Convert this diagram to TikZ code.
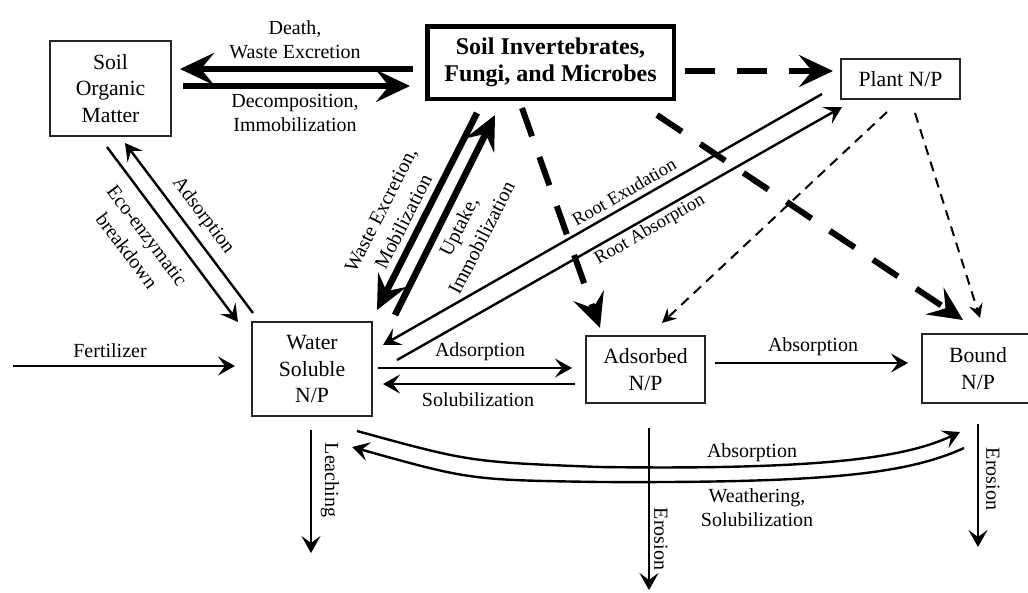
\documentclass[tikz,border=0pt]{standalone}
\usepackage{fontspec}
\setmainfont{Liberation Serif}
\usetikzlibrary{arrows.meta}
\begin{document}
\begin{tikzpicture}[x=1pt,y=-1pt,
  box/.style={draw=black!85,line width=1.2pt,align=center,inner sep=0pt,font=\fontsize{21.7}{26.7}\selectfont},
  lab/.style={align=center,inner sep=0pt,font=\fontsize{20}{24}\selectfont},
  slab/.style={align=center,inner sep=0pt,font=\fontsize{20}{25.5}\selectfont},
  rlab/.style={align=center,inner sep=0pt,font=\fontsize{18.5}{22}\selectfont},
  thinarr/.style={line width=2.4pt,-{Stealth[length=17pt,width=19pt,inset=7pt]}},
  thickarr/.style={line width=6.5pt,-{Stealth[length=34pt,width=32pt,inset=13pt]}},
  bigdash/.style={line width=6pt,dash pattern=on 30pt off 22pt,-{Stealth[length=34pt,width=32pt,inset=13pt]}},
  smalldash/.style={line width=2pt,dash pattern=on 10pt off 7pt,-{Stealth[length=14pt,width=14pt,inset=5pt]}}
]
\useasboundingbox (0,0) rectangle (1028,592);
\clip (0,0) rectangle (1028,592);
% nodes
\node[box,minimum width=121pt,minimum height=95pt] (som) at (110.5,88.5) {Soil\\Organic\\Matter};
\node[box,draw=black,line width=4.5pt,minimum width=246.5pt,minimum height=72.5pt,font=\bfseries\fontsize{24}{27.5}\selectfont] (inv) at (550.5,62.5) {Soil Invertebrates,\\Fungi, and Microbes};
\node[box,minimum width=119pt,minimum height=40pt] (plant) at (900.5,79) {Plant N/P};
\node[box,minimum width=120pt,minimum height=94pt] (ws) at (312,369) {Water\\Soluble\\N/P};
\node[box,minimum width=119pt,minimum height=67pt] (ads) at (645.5,369.5) {Adsorbed\\N/P};
\node[box,minimum width=112pt,minimum height=69pt] (bound) at (978,368.5) {Bound\\N/P};
% endpoint coordinates
\coordinate (deathS) at (413,69);   \coordinate (deathE) at (180,69);
\coordinate (decoS) at (183,86);    \coordinate (decoE) at (410,86);
\coordinate (ecoS) at (107,147);    \coordinate (ecoE) at (238,322);
\coordinate (adsoS) at (253,313);   \coordinate (adsoE) at (125,143);
\coordinate (wasteS) at (477,113);  \coordinate (wasteE) at (377,310);
\coordinate (uptS) at (395,315);    \coordinate (uptE) at (495,115);
\coordinate (rexS) at (822,94);     \coordinate (rexE) at (383,345);
\coordinate (rabS) at (397,360);    \coordinate (rabE) at (842,107);
\coordinate (ipS) at (685,71);      \coordinate (ipE) at (833,71);
\coordinate (iaS) at (522,108);     \coordinate (iaE) at (600,328);
\coordinate (ibS) at (657,115);     \coordinate (ibE) at (963,320);
\coordinate (paS) at (887,112);     \coordinate (paE) at (662,323);
\coordinate (pbS) at (915,113);     \coordinate (pbE) at (980,318);
\coordinate (fert) at (13,366);     \coordinate (fertE) at (235,366);
\coordinate (wadS) at (378,368);    \coordinate (wadE) at (572,368);
\coordinate (solS) at (575,384);    \coordinate (solE) at (383,384);
\coordinate (absS) at (715,363);    \coordinate (absE) at (908,363);
\coordinate (leaS) at (311,430);    \coordinate (leaE) at (311,553);
\coordinate (er1S) at (649,428);    \coordinate (er1E) at (649,590);
\coordinate (er2S) at (978,424);    \coordinate (er2E) at (978,547);
\coordinate (cabS) at (357,431);    \coordinate (cabE) at (960,432);
\coordinate (cweS) at (964,448);    \coordinate (cweE) at (352,447);
% dashed arrows
\draw[bigdash] (ipS) -- (ipE);
\draw[bigdash] (iaS) -- (iaE);
\draw[bigdash] (ibS) -- (ibE);
\draw[smalldash] (paS) -- (paE);
\draw[smalldash] (pbS) -- (pbE);
% thick arrows
\draw[thickarr] (deathS) -- (deathE);
\draw[thickarr] (decoS) -- (decoE);
\draw[thickarr] (wasteS) -- (wasteE);
\draw[thickarr] (uptS) -- (uptE);
% thin arrows
\draw[thinarr] (ecoS) -- (ecoE);
\draw[thinarr] (adsoS) -- (adsoE);
\draw[thinarr] (rexS) -- (rexE);
\draw[thinarr] (rabS) -- (rabE);
\draw[thinarr] (fert) -- (fertE);
\draw[thinarr] (wadS) -- (wadE);
\draw[thinarr] (solS) -- (solE);
\draw[thinarr] (absS) -- (absE);
\draw[thinarr] (leaS) -- (leaE);
\draw[thinarr] (er1S) -- (er1E);
\draw[thinarr] (er2S) -- (er2E);
\draw[thinarr] (cabS) .. controls (470,462) .. (600,467) .. controls (820,470) and (905,458) .. (cabE);
\draw[thinarr] (cweS) .. controls (905,475) and (820,483) .. (600,482) .. controls (470,480) .. (cweE);
% labels
\node[lab] (lDeath) at (295,40) {Death,\\Waste Excretion};
\node[lab] (lDeco) at (295,113) {Decomposition,\\Immobilization};
\node[lab,rotate=-53] (lAdso) at (203,216) {Adsorption};
\node[slab,rotate=-53] (lEco) at (137,243) {Eco-enzymatic\\breakdown};
\node[slab,rotate=63] (lWaste) at (392,216) {Waste Excretion,\\Mobilization};
\node[slab,rotate=63] (lUpt) at (470,232) {Uptake,\\Immobilization};
\node[rlab,rotate=30] (lRex) at (624,192) {Root Exudation};
\node[rlab,rotate=30] (lRab) at (650,230) {Root Absorption};
\node[lab] (lFert) at (110,351) {Fertilizer};
\node[lab] (lWad) at (480,352) {Adsorption};
\node[lab] (lSol) at (478,400) {Solubilization};
\node[lab] (lAbs) at (813,347) {Absorption};
\node[lab,rotate=-90] (lLea) at (330,480) {Leaching};
\node[lab,rotate=-90] (lEr1) at (661,539) {Erosion};
\node[lab,rotate=-90] (lEr2) at (993,479) {Erosion};
\node[lab] (lCab) at (752,453) {Absorption};
\node[lab] (lCwe) at (757,508) {Weathering,\\Solubilization};
\end{tikzpicture}
\end{document}
